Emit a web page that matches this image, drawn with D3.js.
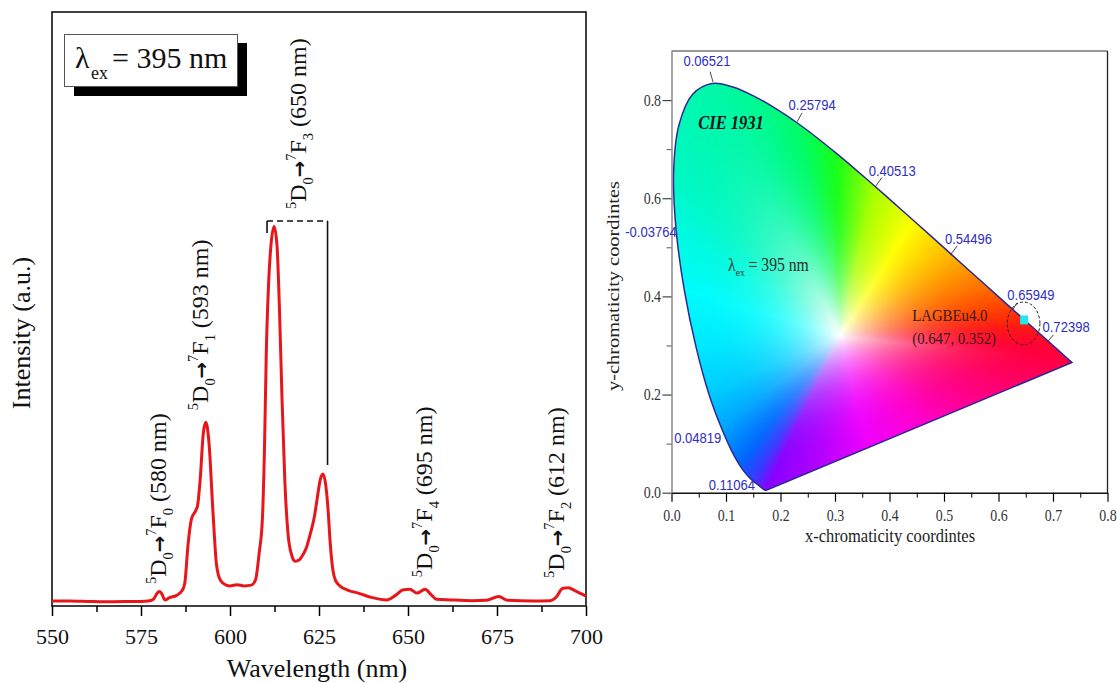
<!DOCTYPE html>
<html>
<head>
<meta charset="utf-8">
<script src="https://cdn.jsdelivr.net/npm/d3@7"></script>
<style>
  body { margin: 0; background: #fff; }
  svg { display: block; }
</style>
</head>
<body>
<svg id="fig" width="1117" height="683"></svg>
<script>
// ---- emission spectrum, lambda_ex = 395 nm ----
var specWl = [550,555,560,565,570,575,577,578.5,579.5,580.1,580.8,581.7,583,585,586.5,587.3,588.2,589.2,590.3,590.9,591.6,592.5,593.2,594.1,595.2,596.2,597.3,598.9,600,602,604,606,607.2,608.2,609.1,609.7,610.2,610.8,611.5,612.4,613.2,613.9,614.6,615.4,616.3,617.3,618.3,619.5,620.5,621.5,622.7,623.7,624.6,625.4,626.1,626.8,627.5,628.2,628.9,629.7,631,633,636,640,644,646.5,648.5,650.5,652.5,654.8,656.5,658,662,668,672,675.5,678,685,690,691.5,693.5,695,697,700];
var specI = [0.013,0.013,0.012,0.011,0.012,0.012,0.013,0.018,0.033,0.038,0.033,0.016,0.022,0.028,0.040,0.060,0.160,0.230,0.250,0.265,0.330,0.455,0.484,0.430,0.250,0.110,0.068,0.055,0.053,0.056,0.053,0.055,0.070,0.140,0.230,0.420,0.670,0.840,0.950,1.000,0.950,0.780,0.550,0.330,0.190,0.135,0.118,0.122,0.135,0.155,0.195,0.235,0.290,0.335,0.348,0.325,0.260,0.160,0.095,0.066,0.052,0.042,0.034,0.022,0.016,0.028,0.042,0.044,0.034,0.044,0.030,0.018,0.016,0.014,0.015,0.025,0.015,0.013,0.014,0.022,0.047,0.048,0.040,0.026];
var specTicks = [550, 575, 600, 625, 650, 675, 700];
var specMinor = [562.5, 587.5, 612.5, 637.5, 662.5, 687.5];

// transition labels as printed in the figure: final 7F level and wavelength
var levelF = [0, 1, 3, 4, 2];
var levelNm = [580, 593, 650, 695, 612];
// label anchor (wavelength, intensity) at the start of each rotated label
var levelAt = [[582.0, 0.058], [593.8, 0.516], [621.3, 1.046], [656.7, 0.076], [693.8, 0.074]];

// ---- CIE 1931 chromaticity diagram ----
var locusX = [0.1741,0.1740,0.1738,0.1736,0.1733,0.1730,0.1726,0.1721,0.1714,0.1703,0.1689,0.1669,0.1644,0.1611,0.1566,0.1510,0.1440,0.1355,0.1241,0.1096,0.0913,0.0687,0.0454,0.0235,0.0082,0.0039,0.0139,0.0389,0.0743,0.1142,0.1547,0.1929,0.2296,0.2658,0.3016,0.3373,0.3731,0.4087,0.4441,0.4788,0.5125,0.5448,0.5752,0.6029,0.6270,0.6482,0.6658,0.6801,0.6915,0.7006,0.7079,0.7140,0.7190,0.7230,0.7260,0.7283,0.7300,0.7311,0.7320,0.7334,0.7344,0.7347];
var locusY = [0.0050,0.0050,0.0049,0.0049,0.0048,0.0048,0.0048,0.0048,0.0051,0.0058,0.0069,0.0086,0.0109,0.0138,0.0177,0.0227,0.0297,0.0399,0.0578,0.0868,0.1327,0.2007,0.2950,0.4127,0.5384,0.6548,0.7502,0.8120,0.8338,0.8262,0.8059,0.7816,0.7543,0.7243,0.6923,0.6589,0.6245,0.5896,0.5547,0.5202,0.4866,0.4544,0.4242,0.3965,0.3725,0.3514,0.3340,0.3197,0.3083,0.2993,0.2920,0.2859,0.2809,0.2770,0.2740,0.2717,0.2700,0.2689,0.2680,0.2666,0.2656,0.2653];
var cieXTicks = [0, 0.1, 0.2, 0.3, 0.4, 0.5, 0.6, 0.7, 0.8];
var cieXMinor = [0.05, 0.15, 0.25, 0.35, 0.45, 0.55, 0.65, 0.75];
var cieYTicks = [0, 0.2, 0.4, 0.6, 0.8];
var cieYMinor = [0.1, 0.3, 0.5, 0.7];
// blue value labels along the locus (centered on their own x value)
var locusLabels = ["0.06521", "0.25794", "0.40513", "0.54496", "0.65949", "0.72398", "-0.03764", "0.04819", "0.11064"];
var locusLabelY = [0.869, 0.779, 0.645, 0.507, 0.392, 0.328, 0.521, 0.102, 0.0063];
// small leader lines: [x1, y1, x2, y2] in chromaticity units
var leaders = [[0.0707,0.858,0.0762,0.837],[0.2397,0.774,0.2305,0.756],[0.386,0.642,0.3737,0.623],[0.5243,0.503,0.5115,0.484],[0.634,0.387,0.6266,0.374],[0.7006,0.3215,0.6896,0.307]];
var sampleName = "LAGBEu4.0";
var sampleXY = [0.647, 0.352];

// fill colours at points of the gamut edge (style only)
var hueStops = [
  [0.1741,0.005,"#8a00ff"],[0.150,0.022,"#3a38ff"],[0.124,0.058,"#0068ff"],[0.091,0.133,"#00a8ff"],
  [0.069,0.201,"#00ccff"],[0.045,0.295,"#00e8ff"],[0.024,0.413,"#00fcfc"],[0.008,0.538,"#00fae0"],
  [0.004,0.655,"#00f8c4"],[0.074,0.834,"#00f8a8"],[0.155,0.806,"#00fa90"],[0.230,0.754,"#00fc68"],
  [0.302,0.692,"#18ff18"],[0.373,0.625,"#a8ff00"],[0.444,0.555,"#ffff00"],[0.513,0.487,"#ffb800"],
  [0.575,0.424,"#ff7400"],[0.627,0.373,"#ff3c00"],[0.666,0.334,"#ff1418"],[0.708,0.292,"#ff0038"],
  [0.7347,0.2653,"#ff0044"],[0.62,0.212,"#ff0070"],[0.47,0.142,"#ff00c8"],[0.36,0.091,"#f000ff"],
  [0.26,0.045,"#b000ff"]
];
var whitePt = [0.31, 0.32];

var serif = "'Liberation Serif', 'Times New Roman', serif";
var sans = "'Liberation Sans', Arial, sans-serif";
var svg = d3.select("#fig");

// =================== left panel: spectrum ===================
var sp = {left: 52, right: 586, top: 12, bottom: 606};
var x = d3.scaleLinear().domain([550, 700]).range([sp.left, sp.right]);
var y = d3.scaleLinear().domain([0, 1.565]).range([sp.bottom, sp.top]);

svg.append("rect")
  .attr("x", sp.left).attr("y", sp.top)
  .attr("width", sp.right - sp.left).attr("height", sp.bottom - sp.top)
  .attr("fill", "none").attr("stroke", "#111").attr("stroke-width", 1.6);

svg.append("g")
  .attr("transform", `translate(0,${sp.bottom})`)
  .call(d3.axisBottom(x).tickValues(specMinor).tickSize(6).tickSizeOuter(0).tickFormat(""))
  .call(g => g.select(".domain").remove())
  .selectAll("line").attr("stroke-width", 1.5);

var xAxis = svg.append("g")
  .attr("transform", `translate(0,${sp.bottom})`)
  .call(d3.axisBottom(x).tickValues(specTicks).tickSize(10).tickSizeOuter(0).tickPadding(12).tickFormat(d3.format("d")))
  .call(g => g.select(".domain").remove());
xAxis.attr("font-family", serif).attr("font-size", 22);
xAxis.selectAll("line").attr("stroke-width", 1.5);
xAxis.selectAll("text").attr("fill", "#111");

svg.append("text")
  .attr("x", (sp.left + sp.right) / 2 - 2).attr("y", 677)
  .attr("text-anchor", "middle")
  .attr("font-family", serif).attr("font-size", 26).attr("fill", "#111")
  .text("Wavelength (nm)");

svg.append("text")
  .attr("transform", "translate(30,333) rotate(-90)")
  .attr("text-anchor", "middle")
  .attr("font-family", serif).attr("font-size", 26).attr("fill", "#111")
  .text("Intensity (a.u.)");

var spectrum = d3.zip(specWl, specI);
svg.append("path")
  .datum(spectrum)
  .attr("fill", "none")
  .attr("stroke", "#e8161a")
  .attr("stroke-width", 3)
  .attr("stroke-linejoin", "round")
  .attr("d", d3.line().x(d => x(d[0])).y(d => y(d[1])).curve(d3.curveMonotoneX));

// rich text: superscripts / subscripts / arrow
function richText(sel, parts, size) {
  var shift = 0;
  parts.forEach(function(p) {
    var target = p.k === "sup" ? -0.42 * size : (p.k === "sub" ? 0.3 * size : 0);
    var ts = sel.append("tspan").attr("dy", target - shift).text(p.t);
    shift = target;
    if (p.k === "sup" || p.k === "sub") ts.attr("font-size", size * 0.6);
    if (p.k === "arrow") ts.attr("font-family", "'DejaVu Sans', sans-serif").attr("font-weight", "bold").attr("font-size", size * 0.82);
  });
}

levelF.forEach(function(f, i) {
  var parts = [
    {t: "5", k: "sup"}, {t: "D"}, {t: "0", k: "sub"}, {t: "\u2192", k: "arrow"},
    {t: "7", k: "sup"}, {t: "F"}, {t: String(f), k: "sub"}, {t: " (" + levelNm[i] + " nm)"}
  ];
  var t = svg.append("text")
    .attr("transform", `translate(${x(levelAt[i][0])},${y(levelAt[i][1])}) rotate(-90)`)
    .attr("font-family", serif).attr("font-size", 24).attr("fill", "#111");
  richText(t, parts, 24);
});

// bracket over the 612 / 626 nm pair
svg.append("line")
  .attr("x1", x(610.4)).attr("x2", x(627.4)).attr("y1", y(1.0145)).attr("y2", y(1.0145))
  .attr("stroke", "#111").attr("stroke-width", 1.6).attr("stroke-dasharray", "6,4");
svg.append("line")
  .attr("x1", x(610.4)).attr("x2", x(610.4)).attr("y1", y(1.0145)).attr("y2", y(0.983))
  .attr("stroke", "#111").attr("stroke-width", 1.6);
svg.append("line")
  .attr("x1", x(627.4)).attr("x2", x(627.4)).attr("y1", y(1.0145)).attr("y2", y(0.3715))
  .attr("stroke", "#111").attr("stroke-width", 1.6);

// excitation legend box with shadow
svg.append("rect").attr("x", 74).attr("y", 43).attr("width", 173).attr("height", 53).attr("fill", "#000");
svg.append("rect").attr("x", 64.5).attr("y", 34.5).attr("width", 173).attr("height", 52)
  .attr("fill", "#fff").attr("stroke", "#555").attr("stroke-width", 1);
svg.append("text").attr("x", 75).attr("y", 68).attr("font-family", serif).attr("font-size", 30).attr("fill", "#111").text("\u03bb");
svg.append("text").attr("x", 91).attr("y", 79).attr("font-family", serif).attr("font-size", 18).attr("fill", "#111").text("ex");
svg.append("text").attr("x", 112).attr("y", 68).attr("font-family", serif).attr("font-size", 30).attr("fill", "#111").text("= 395 nm");

// =================== right panel: CIE 1931 ===================
var cie = {left: 671.5, right: 1107.5, top: 51, bottom: 492.7};
var cx = d3.scaleLinear().domain([0, 0.8]).range([cie.left, cie.right]);
var cy = d3.scaleLinear().domain([0, 0.9]).range([cie.bottom, cie.top]);
var sx = 0.87; // the inset is printed slightly squeezed sideways

var locus = d3.zip(locusX, locusY);

// colour fill rendered on a canvas, then clipped to the gamut
var W = Math.round(cie.right - cie.left), H = Math.round(cie.bottom - cie.top);
var canvas = document.createElement("canvas");
canvas.width = W; canvas.height = H;
var ctx = canvas.getContext("2d");
var img = ctx.createImageData(W, H);

var stops = hueStops.map(s => ({a: Math.atan2(s[1] - whitePt[1], s[0] - whitePt[0]), c: d3.rgb(s[2])}))
  .sort((p, q) => p.a - q.a);
function hueAt(a) {
  var n = stops.length, k = 0;
  while (k < n && a >= stops[k].a) k++;
  var lo = stops[(k - 1 + n) % n], hi = stops[k % n];
  var a0 = lo.a, a1 = hi.a;
  if (k === 0) a0 -= 2 * Math.PI;
  if (k === n) a1 += 2 * Math.PI;
  var t = (a - a0) / (a1 - a0);
  return [lo.c.r + (hi.c.r - lo.c.r) * t, lo.c.g + (hi.c.g - lo.c.g) * t, lo.c.b + (hi.c.b - lo.c.b) * t];
}
function edgeDist(a) {
  var dx = Math.cos(a), dy = Math.sin(a), best = Infinity;
  for (var i = 0; i < locus.length; i++) {
    var p = locus[i], q = locus[(i + 1) % locus.length];
    var ex = q[0] - p[0], ey = q[1] - p[1];
    var den = dx * ey - dy * ex;
    if (Math.abs(den) < 1e-12) continue;
    var wx = p[0] - whitePt[0], wy = p[1] - whitePt[1];
    var t = (wx * ey - wy * ex) / den;
    var s = (wx * dy - wy * dx) / den;
    if (t > 0 && s >= -1e-9 && s <= 1 + 1e-9 && t < best) best = t;
  }
  return best;
}
var NB = 2048, binR = [], binC = [];
for (var b = 0; b < NB; b++) {
  var a = -Math.PI + (b + 0.5) * 2 * Math.PI / NB;
  binR.push(edgeDist(a));
  binC.push(hueAt(a));
}
for (var j = 0; j < H; j++) {
  var vy = cy.invert(cie.top + j + 0.5);
  for (var i = 0; i < W; i++) {
    var vx = cx.invert(cie.left + i + 0.5);
    var ddx = vx - whitePt[0], ddy = vy - whitePt[1];
    var ang = Math.atan2(ddy, ddx);
    var bi = Math.min(NB - 1, Math.max(0, Math.floor((ang + Math.PI) / (2 * Math.PI) * NB)));
    var tt = Math.min(1, Math.sqrt(ddx * ddx + ddy * ddy) / binR[bi]);
    var f = 1 - Math.pow(1 - tt, 2.8);
    var c = binC[bi], o = (j * W + i) * 4;
    img.data[o] = 255 * (1 - f) + c[0] * f;
    img.data[o + 1] = 255 * (1 - f) + c[1] * f;
    img.data[o + 2] = 255 * (1 - f) + c[2] * f;
    img.data[o + 3] = 255;
  }
}
ctx.putImageData(img, 0, 0);

// smooth spectral locus, closed by the straight purple line
var locusPath = d3.line().x(d => cx(d[0])).y(d => cy(d[1])).curve(d3.curveCatmullRom.alpha(0.5))(locus) + "Z";
svg.append("clipPath").attr("id", "gamut").append("path").attr("d", locusPath);
svg.append("image")
  .attr("href", canvas.toDataURL())
  .attr("x", cie.left).attr("y", cie.top).attr("width", W).attr("height", H)
  .attr("preserveAspectRatio", "none")
  .attr("clip-path", "url(#gamut)");
svg.append("path").attr("d", locusPath)
  .attr("fill", "none").attr("stroke", "#2c2a92").attr("stroke-width", 1.5);

// frame
svg.append("line").attr("x1", cie.left).attr("x2", cie.right).attr("y1", cie.top).attr("y2", cie.top)
  .attr("stroke", "#777").attr("stroke-width", 1.3);
svg.append("line").attr("x1", cie.right).attr("x2", cie.right).attr("y1", cie.top).attr("y2", cie.bottom)
  .attr("stroke", "#222").attr("stroke-width", 1.3);

// axes
svg.append("g").attr("transform", `translate(0,${cie.bottom})`)
  .call(d3.axisBottom(cx).tickValues(cieXMinor).tickSize(5).tickSizeOuter(0).tickFormat(""))
  .call(g => g.select(".domain").remove());
var cxa = svg.append("g").attr("transform", `translate(0,${cie.bottom})`)
  .call(d3.axisBottom(cx).tickValues(cieXTicks).tickSize(9).tickSizeOuter(0).tickPadding(8).tickFormat(d3.format(".1f")));
cxa.attr("font-family", serif).attr("font-size", 16);
cxa.select(".domain").attr("stroke", "#111").attr("stroke-width", 1.5);
cxa.selectAll("line").attr("stroke-width", 1.2);
cxa.selectAll("text").attr("transform", `scale(${sx},1)`).attr("fill", "#333");

svg.append("g").attr("transform", `translate(${cie.left},0)`)
  .call(d3.axisLeft(cy).tickValues(cieYMinor).tickSize(5).tickSizeOuter(0).tickFormat(""))
  .call(g => g.select(".domain").remove())
  .selectAll("line").attr("stroke", "#555");
var cya = svg.append("g").attr("transform", `translate(${cie.left},0)`)
  .call(d3.axisLeft(cy).tickValues(cieYTicks).tickSize(9).tickSizeOuter(0).tickPadding(3).tickFormat(d3.format(".1f")));
cya.attr("font-family", serif).attr("font-size", 16);
cya.select(".domain").attr("stroke", "#777").attr("stroke-width", 1.3);
cya.selectAll("line").attr("stroke", "#444").attr("stroke-width", 1.2);
cya.selectAll("text").attr("transform", `scale(${sx},1)`).attr("fill", "#333");

svg.append("text")
  .attr("transform", `translate(${(cie.left + cie.right) / 2 + 0.5},542) scale(${sx},1)`)
  .attr("text-anchor", "middle").attr("font-family", serif).attr("font-size", 19).attr("fill", "#222")
  .text("x-chromaticity coordintes");
svg.append("text")
  .attr("transform", `translate(619,286) rotate(-90) scale(1,${sx})`)
  .attr("text-anchor", "middle").attr("font-family", serif).attr("font-size", 20.4).attr("fill", "#222")
  .text("y-chromaticity coordintes");

// leader lines and blue value labels
leaders.forEach(function(l) {
  svg.append("line")
    .attr("x1", cx(l[0])).attr("y1", cy(l[1])).attr("x2", cx(l[2])).attr("y2", cy(l[3]))
    .attr("stroke", "#333").attr("stroke-width", 0.9);
});
locusLabels.forEach(function(s, i) {
  svg.append("text")
    .attr("transform", `translate(${cx(+s)},${cy(locusLabelY[i])}) scale(${sx},1)`)
    .attr("text-anchor", "middle").attr("font-family", sans).attr("font-size", 15).attr("fill", "#2e2ec4")
    .text(s);
});

svg.append("text")
  .attr("transform", `translate(${cx(0.049)},${cy(0.7415)}) scale(${sx},1)`)
  .attr("font-family", serif).attr("font-size", 19).attr("font-weight", "bold").attr("font-style", "italic")
  .attr("fill", "#111").text("CIE 1931");

var lam = svg.append("text")
  .attr("transform", `translate(${cx(0.1038)},${cy(0.452)}) scale(${sx},1)`)
  .attr("font-family", serif).attr("font-size", 18).attr("fill", "#22332e");
lam.append("tspan").text("\u03bb");
lam.append("tspan").attr("dy", 5).attr("font-size", 11).text("ex");
lam.append("tspan").attr("dy", -5).text(" = 395 nm");

svg.append("text")
  .attr("transform", `translate(${cx(0.4417)},${cy(0.350)}) scale(${sx},1)`)
  .attr("font-family", serif).attr("font-size", 17).attr("fill", "#3a1a1a")
  .text(sampleName);
svg.append("text")
  .attr("transform", `translate(${cx(0.4417)},${cy(0.304)}) scale(${sx},1)`)
  .attr("font-family", serif).attr("font-size", 17).attr("fill", "#3a1a1a")
  .text("(" + sampleXY[0].toFixed(3) + ", " + sampleXY[1].toFixed(3) + ")");

svg.append("ellipse")
  .attr("cx", cx(sampleXY[0]) - 0.5).attr("cy", cy(sampleXY[1]) + 3.5).attr("rx", 16.3).attr("ry", 21.4)
  .attr("fill", "none").attr("stroke", "#222").attr("stroke-width", 1).attr("stroke-dasharray", "3,2");
svg.append("rect")
  .attr("x", cx(sampleXY[0]) - 4).attr("y", cy(sampleXY[1]) - 4.5).attr("width", 8).attr("height", 9)
  .attr("fill", "#22e6f0");
</script>
</body>
</html>
